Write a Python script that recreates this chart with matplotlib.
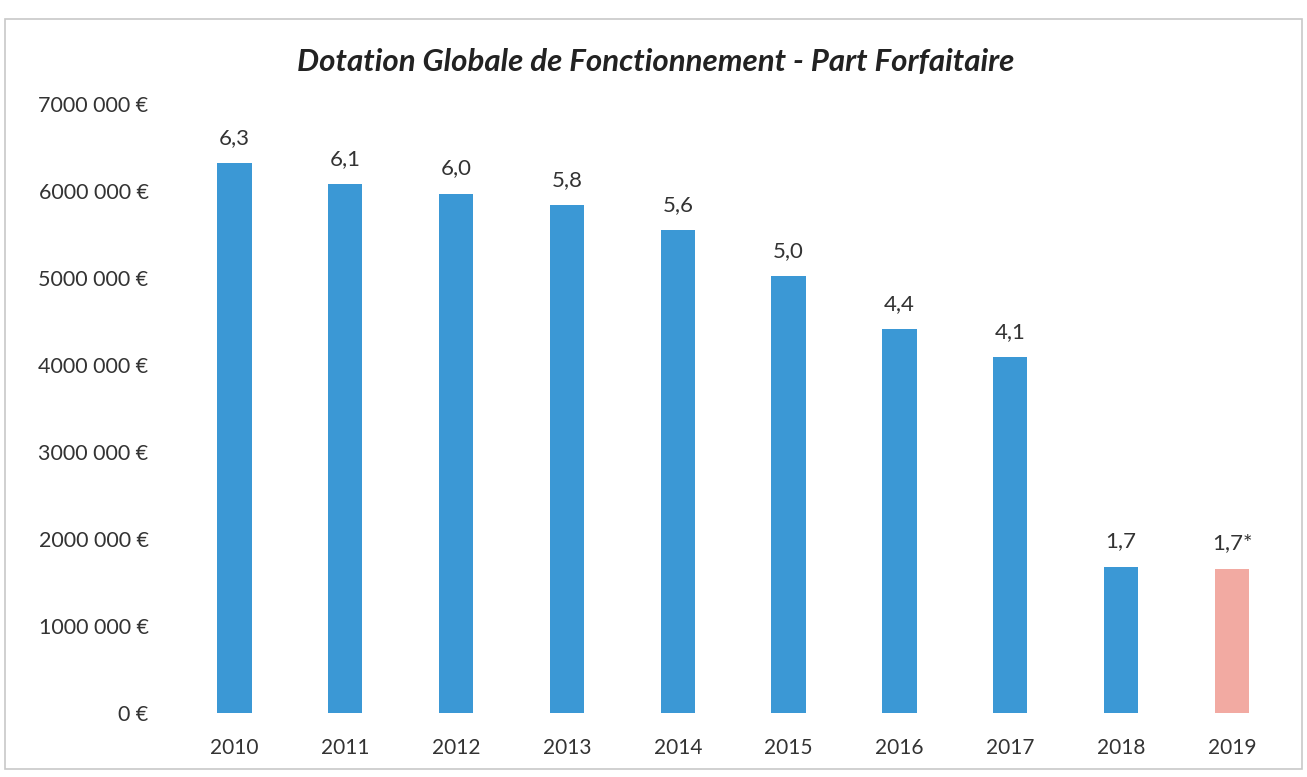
import matplotlib.pyplot as plt
from matplotlib.patches import Rectangle

# données
annees = ["2010", "2011", "2012", "2013", "2014", "2015", "2016", "2017", "2018", "2019"]
montants = [6320000, 6080000, 5970000, 5840000, 5550000, 5020000, 4410000, 4090000, 1680000, 1660000]
etiquettes = ["6,3", "6,1", "6,0", "5,8", "5,6", "5,0", "4,4", "4,1", "1,7", "1,7*"]
y_ticks = [0, 1000000, 2000000, 3000000, 4000000, 5000000, 6000000, 7000000]
y_labels = ["0 €", "1000 000 €", "2000 000 €", "3000 000 €", "4000 000 €",
            "5000 000 €", "6000 000 €", "7000 000 €"]

plt.rcParams['font.family'] = ['Lato', 'DejaVu Sans']

bleu = "#3b98d5"
rose = "#f2aaa2"
couleurs = [bleu] * 9 + [rose]

fig = plt.figure(figsize=(13.07, 7.77), dpi=100)
ax = fig.add_axes([0.137, 0.0824, 0.848, 0.7836])

x = range(len(annees))
ax.bar(x, montants, width=0.31, color=couleurs)

for i, (v, t) in enumerate(zip(montants, etiquettes)):
    ax.annotate(t, (i, v), xytext=(0, 11), textcoords="offset points",
                ha="center", va="bottom", fontsize=16, color="#333333")

ax.set_xlim(-0.5, 9.5)
ax.set_ylim(0, 7000000)
ax.set_xticks(list(x))
ax.set_xticklabels(annees, fontsize=15, color="#333333")
ax.set_yticks(y_ticks)
ax.set_yticklabels(y_labels, fontsize=15.5, color="#333333")
ax.tick_params(length=0)
ax.tick_params(axis="x", pad=18)
ax.tick_params(axis="y", pad=22)
for s in ax.spines.values():
    s.set_visible(False)

fig.text(0.502, 0.92, "Dotation Globale de Fonctionnement - Part Forfaitaire",
         ha="center", va="center", fontsize=22.5, fontweight="bold",
         fontstyle="italic", color="#222222")

# cadre du scan
fig.patches.append(Rectangle((0.004, 0.01), 0.992, 0.965, transform=fig.transFigure,
                             fill=False, edgecolor="#c8c8c8", linewidth=1.2))

fig.savefig("out.png", dpi=100)
